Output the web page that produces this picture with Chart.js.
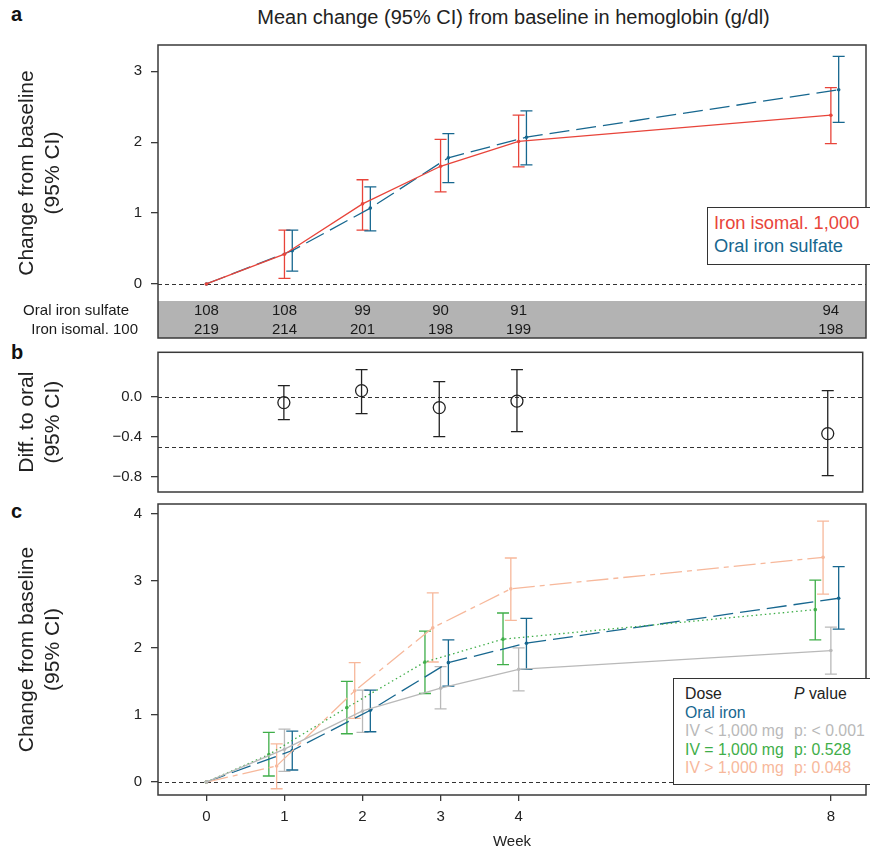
<!DOCTYPE html>
<html lang="en">
<head>
<meta charset="UTF-8">
<title>Hemoglobin change from baseline</title>
<script src="https://cdn.jsdelivr.net/npm/chart.js@4.4.0/dist/chart.umd.min.js"></script>
<style>
  body { margin: 0; background: #fff; font-family: "Liberation Sans", Arial, Helvetica, sans-serif; }
  #fig { position: relative; width: 870px; height: 851px; overflow: hidden; }
  #fig canvas { position: absolute; left: 0; }
  .letter { position: absolute; left: 11px; font-size: 20px; font-weight: bold; color: #111; line-height: 1; }
  .title { position: absolute; top: 6px; left: 158px; width: 711px; text-align: center; font-size: 20px; color: #222; }
  .legend { position: absolute; background: #fff; border: 1.5px solid #333; box-sizing: border-box; }
  #legA { left: 707px; top: 207px; width: 165px; height: 58px; padding: 3px 0 0 6px; font-size: 18.3px; line-height: 23px; }
  #legC { left: 673px; top: 678px; width: 199px; height: 107px; padding: 6px 0 0 11px; font-size: 15.8px; line-height: 18.6px; }
  #legC div span { display: inline-block; width: 109px; }
</style>
</head>
<body>
<div id="fig">
  <div class="letter" style="top:4px">a</div>
  <div class="letter" style="top:342px">b</div>
  <div class="letter" style="top:501px">c</div>
  <div class="title">Mean change (95% CI) from baseline in hemoglobin (g/dl)</div>

  <canvas id="chartA" width="870" height="315" style="top:30px"></canvas>
  <canvas id="chartB" width="870" height="155" style="top:345px"></canvas>
  <canvas id="chartC" width="870" height="351" style="top:500px"></canvas>

  <div class="legend" id="legA">
    <div style="color:#e8443a">Iron isomal. 1,000</div>
    <div style="color:#17678f">Oral iron sulfate</div>
  </div>
  <div class="legend" id="legC">
    <div style="color:#222"><span>Dose</span><i>P</i> value</div>
    <div style="color:#17678f"><span>Oral iron</span></div>
    <div style="color:#b9b9b9"><span>IV &lt; 1,000 mg</span>p: &lt; 0.001</div>
    <div style="color:#3fae49"><span>IV = 1,000 mg</span>p: 0.528</div>
    <div style="color:#f7b89b"><span>IV &gt; 1,000 mg</span>p: 0.048</div>
  </div>
</div>

<script>
  // ---- data ----
  const weeks = [0, 1, 2, 3, 4, 8];
  const weekTicks = [0, 1, 2, 3, 4, 8];

  // panel a: mean change and 95% CI
  const isoMean = [0, 0.42, 1.13, 1.66, 2.01, 2.38];
  const isoLow = [null, 0.08, 0.76, 1.30, 1.65, 1.98];
  const isoHigh = [null, 0.76, 1.47, 2.04, 2.38, 2.77];
  const oralMean = [0, 0.47, 1.07, 1.78, 2.07, 2.74];
  const oralLow = [null, 0.18, 0.75, 1.43, 1.68, 2.28];
  const oralHigh = [null, 0.76, 1.37, 2.12, 2.44, 3.21];
  const ticksA = [0, 1, 2, 3];

  // numbers at risk
  const nOral = [108, 108, 99, 90, 91, 94];
  const nIso = [219, 214, 201, 198, 199, 198];

  // panel b: difference to oral
  const diffWeeks = [1, 2, 3, 4, 8];
  const diffMean = [-0.06, 0.06, -0.11, -0.045, -0.37];
  const diffLow = [-0.23, -0.17, -0.40, -0.35, -0.79];
  const diffHigh = [0.11, 0.27, 0.15, 0.27, 0.06];
  const ticksB = [0, -0.4, -0.8];

  // panel c: by IV dose
  const ivLowMean = [0, 0.49, 1.06, 1.40, 1.68, 1.96];
  const ivLowLow = [null, 0.16, 0.74, 1.09, 1.36, 1.61];
  const ivLowHigh = [null, 0.79, 1.37, 1.72, 2.00, 2.31];
  const ivEqMean = [0, 0.41, 1.11, 1.79, 2.13, 2.57];
  const ivEqLow = [null, 0.09, 0.72, 1.32, 1.75, 2.12];
  const ivEqHigh = [null, 0.74, 1.50, 2.25, 2.52, 3.01];
  const ivHighMean = [0, 0.24, 1.36, 2.30, 2.88, 3.35];
  const ivHighLow = [null, -0.10, 0.95, 1.79, 2.41, 2.80];
  const ivHighHigh = [null, 0.57, 1.78, 2.82, 3.34, 3.89];
  const ticksC = [0, 1, 2, 3, 4];

  const RED = '#e8443a', BLUE = '#17678f', GRAY = '#b9b9b9', GREEN = '#3fae49', SALMON = '#f7b89b';
  const FONT = '"Liberation Sans", Arial, Helvetica, sans-serif';

  Chart.defaults.font.family = FONT;
  Chart.defaults.color = '#222';
  Chart.defaults.animation = false;

  // small horizontal jitter so the error bars don't overlap
  function pts(mean, shift) {
    return weeks.map((w, i) => ({ x: w === 0 ? 0 : w + shift, y: mean[i] }));
  }

  function series(label, mean, lo, hi, color, dash, shift) {
    return {
      label, data: pts(mean, shift), errLow: lo, errHigh: hi,
      borderColor: color, backgroundColor: color, borderWidth: 1.3,
      borderDash: dash, borderCapStyle: 'butt',
      pointRadius: 1.8, pointBorderWidth: 0, tension: 0
    };
  }

  const decor = {
    id: 'decor',
    beforeDatasetsDraw(chart, args, o) {
      const { ctx, chartArea: a, scales: { x, y } } = chart;
      ctx.save();
      ctx.strokeStyle = '#333';
      ctx.lineWidth = 1.2;
      ctx.setLineDash([4, 3]);
      (o.refLines || []).forEach(v => {
        const py = Math.round(y.getPixelForValue(v)) + 0.5;
        ctx.beginPath(); ctx.moveTo(a.left, py); ctx.lineTo(a.right, py); ctx.stroke();
      });
      // error bars
      ctx.setLineDash([]);
      chart.data.datasets.forEach((ds, di) => {
        if (!ds.errLow) return;
        const meta = chart.getDatasetMeta(di);
        ctx.strokeStyle = ds.errColor || ds.borderColor;
        ctx.lineWidth = 1.3;
        meta.data.forEach((p, i) => {
          const lo = ds.errLow[i], hi = ds.errHigh[i];
          if (lo == null) return;
          const y1 = y.getPixelForValue(lo), y2 = y.getPixelForValue(hi);
          const cw = 6;
          ctx.beginPath();
          ctx.moveTo(p.x, y1); ctx.lineTo(p.x, y2);
          ctx.moveTo(p.x - cw, y1); ctx.lineTo(p.x + cw, y1);
          ctx.moveTo(p.x - cw, y2); ctx.lineTo(p.x + cw, y2);
          ctx.stroke();
        });
      });
      ctx.restore();
    },
    afterDraw(chart, args, o) {
      const { ctx, chartArea: a, scales: { x } } = chart;
      ctx.save();
      const band = o.band || 0;
      if (band) {
        ctx.fillStyle = '#b3b3b3';
        ctx.fillRect(a.left, a.bottom, a.right - a.left, band);
        ctx.fillStyle = '#1a1a1a';
        ctx.font = '15px ' + FONT;
        ctx.textBaseline = 'middle';
        ctx.textAlign = 'right';
        ctx.fillText('Oral iron sulfate', a.left - 29, a.bottom + 10);
        ctx.fillText('Iron isomal. 100', a.left - 20, a.bottom + 29);
        ctx.textAlign = 'center';
        weeks.forEach((w, i) => {
          const px = x.getPixelForValue(w);
          ctx.fillText(String(nOral[i]), px, a.bottom + 10);
          ctx.fillText(String(nIso[i]), px, a.bottom + 29);
        });
      }
      ctx.strokeStyle = '#3a3a3a';
      ctx.lineWidth = 1.5;
      ctx.strokeRect(a.left, a.top, a.right - a.left, a.bottom + band - a.top);
      ctx.restore();
    }
  };
  Chart.register(decor);

  function yScale(min, max, ticks, title, fmt) {
    return {
      type: 'linear', min, max,
      afterBuildTicks: s => { s.ticks = ticks.map(v => ({ value: v })); },
      afterFit: s => { s.width = 158; s.paddingTop = 0; s.paddingBottom = 0; },
      border: { display: false },
      grid: { drawOnChartArea: false, drawTicks: true, tickLength: 7, color: '#3a3a3a', lineWidth: 1.3 },
      ticks: { font: { size: 15 }, padding: 9, color: '#222', callback: fmt || (v => String(v)) },
      title: { display: true, text: title, font: { size: 21 }, color: '#222', padding: { top: 15, bottom: 0 } }
    };
  }

  function xScale(show) {
    return {
      type: 'linear', min: -0.62, max: 8.45, display: show,
      afterBuildTicks: s => { s.ticks = weekTicks.map(v => ({ value: v })); },
      afterFit: s => { if (show) s.height = 56; s.paddingLeft = 0; s.paddingRight = 0; },
      border: { display: false },
      grid: { drawOnChartArea: false, drawTicks: true, tickLength: 6, color: '#3a3a3a', lineWidth: 1.3 },
      ticks: { font: { size: 15 }, padding: 7, color: '#222', maxRotation: 0 },
      title: { display: show, text: 'Week', font: { size: 15 }, color: '#222', padding: 0 }
    };
  }

  const baseOpts = {
    responsive: false,
    plugins: { legend: { display: false }, tooltip: { enabled: false } }
  };

  // panel a
  new Chart(document.getElementById('chartA'), {
    type: 'line',
    data: {
      datasets: [
        series('Iron isomal. 1,000', isoMean, isoLow, isoHigh, RED, [], 0),
        series('Oral iron sulfate', oralMean, oralLow, oralHigh, BLUE, [20, 7], 0.1)
      ]
    },
    options: {
      ...baseOpts,
      layout: { padding: { top: 15, bottom: 44, left: 0, right: 1 } },
      plugins: { ...baseOpts.plugins, decor: { refLines: [0], band: 37 } },
      scales: {
        x: xScale(false),
        y: yScale(-0.24, 3.37, ticksA, ['Change from baseline', '(95% CI)'])
      }
    }
  });

  // panel b
  new Chart(document.getElementById('chartB'), {
    type: 'line',
    data: {
      datasets: [{
        label: 'Difference',
        data: diffWeeks.map((w, i) => ({ x: w, y: diffMean[i] })),
        errLow: diffLow, errHigh: diffHigh, errColor: '#222',
        showLine: false, pointRadius: 6, pointBorderWidth: 1.3,
        pointBorderColor: '#222', pointBackgroundColor: 'rgba(0,0,0,0)', borderColor: '#222'
      }]
    },
    options: {
      ...baseOpts,
      layout: { padding: { top: 2, bottom: 8, left: 0, right: 1 } },
      plugins: { ...baseOpts.plugins, decor: { refLines: [0, -0.5] } },
      scales: {
        x: xScale(false),
        y: yScale(-0.954, 0.443, ticksB, ['Diff. to oral', '(95% CI)'],
          v => v.toFixed(1).replace('-', '\u2212'))
      }
    }
  });

  // panel c
  new Chart(document.getElementById('chartC'), {
    type: 'line',
    data: {
      datasets: [
        series('IV < 1,000 mg', ivLowMean, ivLowLow, ivLowHigh, GRAY, [], 0),
        series('IV > 1,000 mg', ivHighMean, ivHighLow, ivHighHigh, SALMON, [22, 5, 5, 5], -0.1),
        series('IV = 1,000 mg', ivEqMean, ivEqLow, ivEqHigh, GREEN, [1.5, 3], -0.2),
        series('Oral iron', oralMean, oralLow, oralHigh, BLUE, [20, 7], 0.1)
      ]
    },
    options: {
      ...baseOpts,
      layout: { padding: { top: 3, bottom: 0, left: 0, right: 1 } },
      plugins: { ...baseOpts.plugins, decor: { refLines: [0] } },
      scales: {
        x: xScale(true),
        y: yScale(-0.193, 4.145, ticksC, ['Change from baseline', '(95% CI)'])
      }
    }
  });
</script>
</body>
</html>
